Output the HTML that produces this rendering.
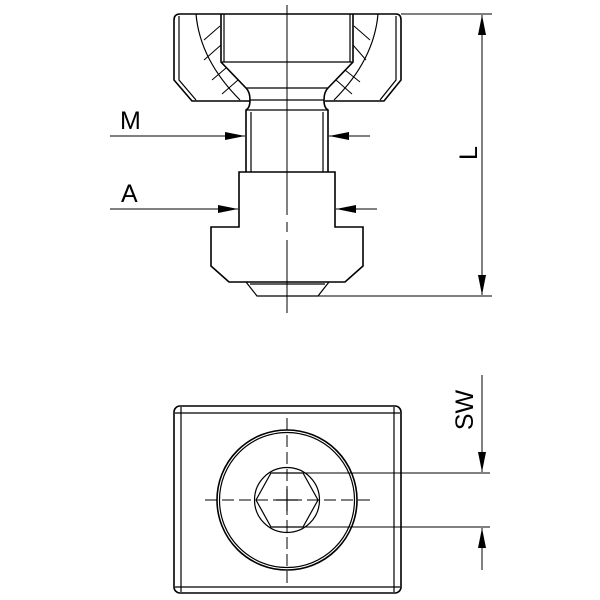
<!DOCTYPE html>
<html><head><style>body{margin:0;background:#fff}svg{display:block}</style></head><body>
<svg width="600" height="600" viewBox="0 0 600 600" xmlns="http://www.w3.org/2000/svg" font-family="Liberation Sans, sans-serif">
<defs>
<marker id="ar" viewBox="0 0 20 10" refX="20" refY="5" markerWidth="20" markerHeight="10" markerUnits="userSpaceOnUse" orient="auto"><path d="M0,1 L20,5 L0,9z" fill="#000"/></marker>
</defs>
<g fill="none" stroke="#000" stroke-width="1.6">
<path d="M180,14 H396 Q401,14 401,20 V80 L384,101 H325 M174,20 Q174,14 180,14 M174,20 V80 L192,101 H250"/>
<path d="M179,16 V80 L196,100 M396,16 V80 L380,100" stroke-width="1.2"/>
<path d="M196,14 Q200,60 240,100 M378,14 Q374,60 334,100" stroke-width="1.2"/>
<path d="M221,14 V62 L246,88 Q250,92 250,100 M353,14 V62 L328,88 Q324,92 324,100"/>
<path d="M224,14 V62 M350,14 V62 M222,62 H352 M246,88 H328 M250,100 H324 M246,110 H328" stroke-width="1.2"/>
<path d="M204,40 L220,26 M204,60 L221,45 M212,80 L226,68 M222,94 L238,80 M370,40 L354,26 M366,60 L353,45 M360,82 L345,70 M352,94 L336,80" stroke-width="1"/>
<path d="M250,100 Q250,108 246,110 V172 M324,100 Q324,108 328,110 V172"/>
<path d="M251,112 V172 M323,112 V172" stroke-width="1.2"/>
<path d="M239,172 H335 V227 H363 V266 L345,282 H229 L211,266 V227 H239 Z"/>
<path d="M246,282 L257,296 H318 L329,282 M250,284 H325" stroke-width="1.2"/>
</g>
<path d="M287,5 V215 M287,222 V232 M287,240 V313" stroke="#000" stroke-width="1" fill="none"/>
<g stroke="#000" stroke-width="1" fill="none">
<line x1="110" y1="136" x2="245" y2="136" marker-end="url(#ar)"/>
<line x1="370" y1="136" x2="329" y2="136" marker-end="url(#ar)"/>
<line x1="110" y1="209" x2="238" y2="209" marker-end="url(#ar)"/>
<line x1="377" y1="209" x2="336" y2="209" marker-end="url(#ar)"/>
<line x1="401" y1="14" x2="492" y2="14"/>
<line x1="318" y1="296" x2="492" y2="296"/>
<line x1="482" y1="155" x2="482" y2="15" marker-end="url(#ar)"/>
<line x1="482" y1="155" x2="482" y2="295" marker-end="url(#ar)"/>
</g>
<text x="120" y="129" font-size="25">M</text>
<text x="121" y="202" font-size="25">A</text>
<text transform="translate(477,153) rotate(-90)" font-size="25" text-anchor="middle">L</text>
<g fill="none" stroke="#000" stroke-width="1.6">
<rect x="174" y="406" width="227" height="187" rx="6"/>
<path d="M181,407 V592 M394,407 V592 M175,413 H400 M175,587 H400" stroke-width="1.2"/>
<circle cx="287" cy="500" r="70"/>
<circle cx="287" cy="500" r="67.5" stroke-width="1.2"/>
<circle cx="287" cy="500" r="32.5" stroke-width="1.2"/>
<path d="M256,500 L271,473 H303 L318,500 L303,527 H271 Z" stroke-width="1.2"/>
</g>
<g stroke="#000" stroke-width="1" fill="none">
<path d="M205,500 H370" stroke-dasharray="12,5"/>
<path d="M287,418 V583" stroke-dasharray="12,5"/>
<path d="M276,500 H298 M287,489 V511" stroke-width="1.2"/>
<line x1="303" y1="473" x2="490" y2="473"/>
<line x1="303" y1="527" x2="490" y2="527"/>
<line x1="482" y1="375" x2="482" y2="472" marker-end="url(#ar)"/>
<line x1="482" y1="570" x2="482" y2="528" marker-end="url(#ar)"/>
</g>
<text transform="translate(473,410) rotate(-90)" font-size="25" text-anchor="middle">SW</text>
</svg>
</body></html>
